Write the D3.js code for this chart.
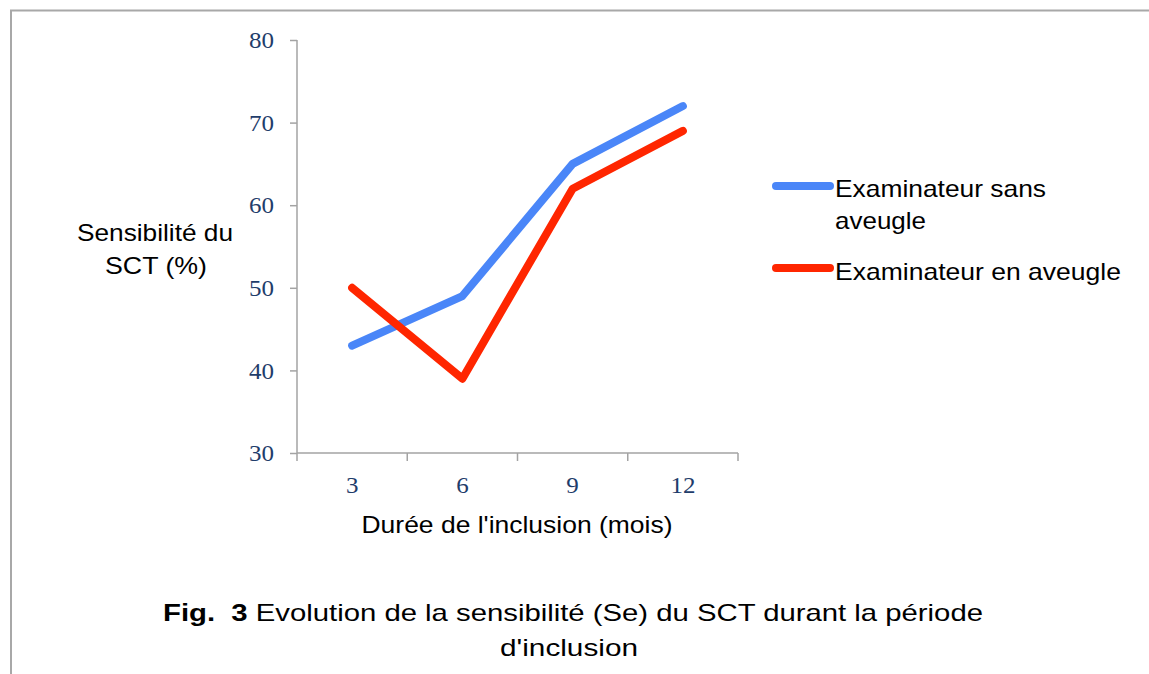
<!DOCTYPE html>
<html>
<head>
<meta charset="utf-8">
<script src="https://cdn.jsdelivr.net/npm/d3@7"></script>
<style>
  body { margin: 0; background: #fff; }
  text { font-family: Arial, "Liberation Sans", sans-serif; }
  .tick text { font-family: "Liberation Serif", serif; fill: #1f3d6b; font-size: 24px; }
  .axis path, .axis line { stroke: #a3a3a3; stroke-width: 1.5; }
</style>
</head>
<body>
<div id="chart"></div>
<script>
// data
var months = ["3", "6", "9", "12"];
var sansAveugle = [43, 49, 65, 72];
var enAveugle = [50, 39, 62, 69];
var yTicks = [30, 40, 50, 60, 70, 80];
var seriesNames = ["Examinateur sans aveugle", "Examinateur en aveugle"];

var width = 1149, height = 674;
var colors = ["#4a86f8", "#ff2600"];

var svg = d3.select("#chart").append("svg")
    .attr("width", width)
    .attr("height", height);

// the source picture is a little stretched sideways, so stretch text to its width
function fit(sel, len) {
    sel.attr("textLength", len).attr("lengthAdjust", "spacingAndGlyphs");
    return sel;
}

// frame (only top and left edges show in the picture)
svg.append("path")
    .attr("d", "M11,674 V10.5 H1149")
    .attr("fill", "none")
    .attr("stroke", "#a8a8a8")
    .attr("stroke-width", 2);

var x = d3.scaleBand().domain(months).range([297, 738]);
var y = d3.scaleLinear().domain([30, 80]).range([453, 40]);

// y axis
var yAxis = d3.axisLeft(y)
    .tickValues(yTicks)
    .tickSize(7)
    .tickPadding(16);
svg.append("g")
    .attr("class", "axis")
    .attr("transform", "translate(" + x.range()[0] + ",0)")
    .call(yAxis)
    .call(function(g) { g.select(".domain").attr("d", "M0," + y(80) + "V" + y(30)); })
    .selectAll(".tick text")
    .each(function(d) { fit(d3.select(this), String(d).length * 12.5); });

// x axis: labels centred in the bands, ticks on band edges
var xAxis = d3.axisBottom(x).tickSize(0).tickPadding(23);
var gx = svg.append("g")
    .attr("class", "axis")
    .attr("transform", "translate(0," + y(30) + ")")
    .call(xAxis);
gx.select(".domain").attr("d", "M" + x.range()[0] + ",0H" + x.range()[1]);
gx.selectAll(".tick text")
    .each(function(d) { fit(d3.select(this), d.length * 12.5); });
var edges = months.map(function(m) { return x(m); }).concat([x.range()[1]]);
gx.selectAll(".edge")
    .data(edges)
    .enter().append("line")
    .attr("class", "edge")
    .attr("x1", function(d) { return d; })
    .attr("x2", function(d) { return d; })
    .attr("y1", 0)
    .attr("y2", 8);

// lines
var line = d3.line()
    .x(function(d, i) { return x(months[i]) + x.bandwidth() / 2; })
    .y(function(d) { return y(d); });

[sansAveugle, enAveugle].forEach(function(s, i) {
    svg.append("path")
        .datum(s)
        .attr("d", line)
        .attr("fill", "none")
        .attr("stroke", colors[i])
        .attr("stroke-width", 8)
        .attr("stroke-linejoin", "round")
        .attr("stroke-linecap", "round");
});

// axis titles
var yTitle = svg.append("text")
    .attr("text-anchor", "middle")
    .attr("font-size", 24)
    .attr("fill", "#000");
fit(yTitle.append("tspan").attr("x", 155).attr("y", 241).text("Sensibilité du"), 156);
fit(yTitle.append("tspan").attr("x", 156).attr("y", 274).text("SCT (%)"), 102);

fit(svg.append("text")
    .attr("x", 517)
    .attr("y", 533)
    .attr("text-anchor", "middle")
    .attr("font-size", 24)
    .text("Durée de l'inclusion (mois)"), 311);

// legend
var legendY = [186, 268];
seriesNames.forEach(function(name, i) {
    svg.append("line")
        .attr("x1", 776).attr("x2", 830)
        .attr("y1", legendY[i]).attr("y2", legendY[i])
        .attr("stroke", colors[i])
        .attr("stroke-width", 8)
        .attr("stroke-linecap", "round");
});
fit(svg.append("text").attr("font-size", 24)
    .attr("x", 835).attr("y", 197).text("Examinateur sans"), 211);
fit(svg.append("text").attr("font-size", 24)
    .attr("x", 835).attr("y", 229).text("aveugle"), 91);
fit(svg.append("text").attr("font-size", 24)
    .attr("x", 835).attr("y", 280)
    .text(seriesNames[1]), 286);

// caption
var cap1 = svg.append("text")
    .attr("x", 163)
    .attr("y", 621)
    .attr("font-size", 24)
    .attr("xml:space", "preserve")
    .style("white-space", "pre");
cap1.append("tspan").attr("font-weight", "bold").text("Fig.  3");
cap1.append("tspan").text(" Evolution de la sensibilité (Se) du SCT durant la période");
fit(cap1, 820);
fit(svg.append("text")
    .attr("x", 569)
    .attr("y", 656)
    .attr("text-anchor", "middle")
    .attr("font-size", 24)
    .text("d'inclusion"), 138);
</script>
</body>
</html>
